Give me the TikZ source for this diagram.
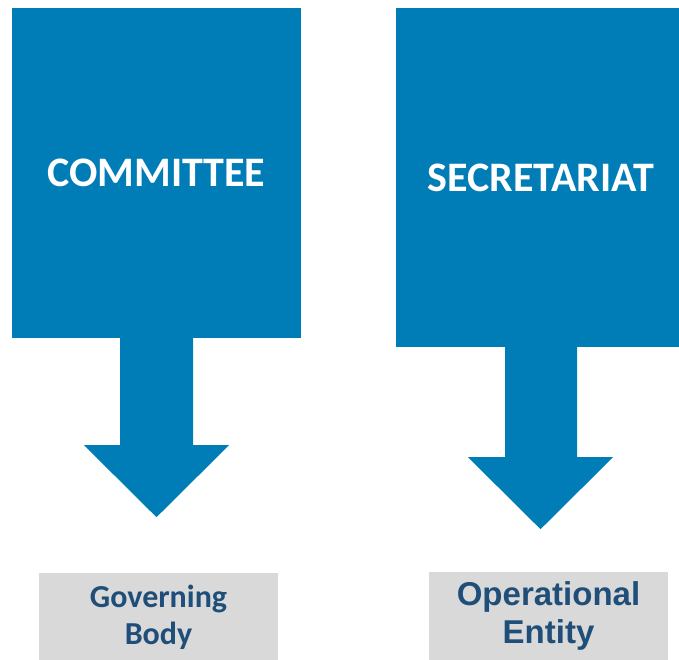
\documentclass[tikz,border=0pt]{standalone}
\usepackage{fontspec}
\setmainfont{Carlito}
\newfontfamily\arialfont{Liberation Sans}
\usepackage{tikz}
\usetikzlibrary{calc}
\definecolor{blockblue}{HTML}{007DB7}
\definecolor{labelgray}{HTML}{D9D9D9}
\definecolor{labelink}{HTML}{1F4E79}
\tikzset{
  bigblock/.style={fill=blockblue,inner sep=0pt,text=white,
                   font=\fontsize{42}{46}\selectfont\bfseries},
  labelbox/.style={fill=labelgray,inner sep=0pt,minimum width=239pt,
                   minimum height=88pt,text=labelink,align=center},
  blockarrow/.style={fill=blockblue},
}
\begin{document}
\begin{tikzpicture}[x=1pt,y=-1pt]
  \useasboundingbox (0,0) rectangle (679,659);
  % top blocks
  \node[bigblock,minimum width=289pt,minimum height=330pt]
    (committee) at (156.5,173){COMMITTEE};
  \node[bigblock,minimum width=290pt,minimum height=339pt]
    (secretariat) at (541,177.5){SECRETARIAT};
  % bottom labels
  \node[labelbox,font=\fontsize{32}{37}\selectfont\bfseries]
    (governing) at (158.5,617){Governing\\Body};
  \node[labelbox,font=\arialfont\fontsize{33}{38}\selectfont\bfseries]
    (operational) at (548.5,616){Operational\\Entity};
  % block arrows
  \fill[blockarrow] (committee.south) ++(-36.5,-1) -- ++(0,108) -- ++(-36,0)
    -- ++(72.5,72) -- ++(72.5,-72) -- ++(-36,0) -- ++(0,-108) -- cycle;
  \fill[blockarrow] (secretariat.south) ++(-36,-1) -- ++(0,111) -- ++(-37,0)
    -- ++(72.5,72) -- ++(72.5,-72) -- ++(-36,0) -- ++(0,-111) -- cycle;
\end{tikzpicture}
\end{document}
